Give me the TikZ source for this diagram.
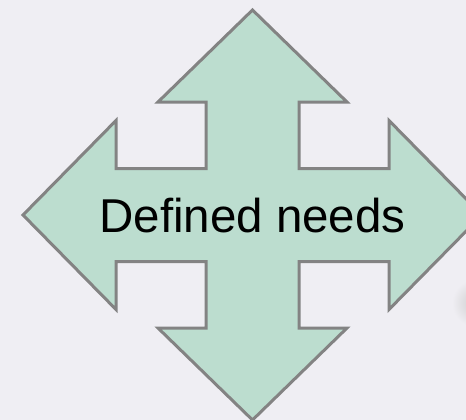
\documentclass[tikz,border=0pt]{standalone}
\usepackage{fontspec}
\setmainfont{Liberation Sans}
\usepackage{xcolor}
\usepackage{tikz}
\usetikzlibrary{positioning, calc}

\definecolor{pagebg}{HTML}{EFEEF3}
\definecolor{needgreen}{HTML}{BCDDCF}
\definecolor{neededge}{HTML}{838383}

\tikzset{
  %% Four way arrow outline
  crossarrow/.style={
    draw=neededge, fill=needgreen,
    line width=3pt, line join=miter
  },
  %% Centre label
  needlabel/.style={
    font=\fontsize{47.5}{52}\selectfont,
    text=black, inner sep=0pt
  },
}

\begin{document}
\begin{tikzpicture}[x=1pt, y=-1pt]

  %% Page and frame
  \useasboundingbox (0,0) rectangle (466,420);
  \fill[pagebg] (0,0) rectangle (466,420);
  \clip (0,0) rectangle (466,420);

  %% Faint shadow at the right edge
  \shade[inner color=gray!40, outer color=pagebg]
       (476,303) circle (24);

  %% Four way arrow
  \draw[crossarrow]
       (252.5,10) -- (347,102) -- (299,102) -- (299,168.5)
       -- (389,168.5) -- (389,120.5) -- (482,215) -- (389,309.5)
       -- (389,261.5) -- (299,261.5) -- (299,328) -- (347,328)
       -- (252.5,420) -- (158,328) -- (206,328) -- (206,261.5)
       -- (116,261.5) -- (116,309.5) -- (23,215) -- (116,120.5)
       -- (116,168.5) -- (206,168.5) -- (206,102) -- (158,102) -- cycle;

  %% Label
  \node[needlabel] (needs) at (252.5,216) {Defined needs};

\end{tikzpicture}
\end{document}
